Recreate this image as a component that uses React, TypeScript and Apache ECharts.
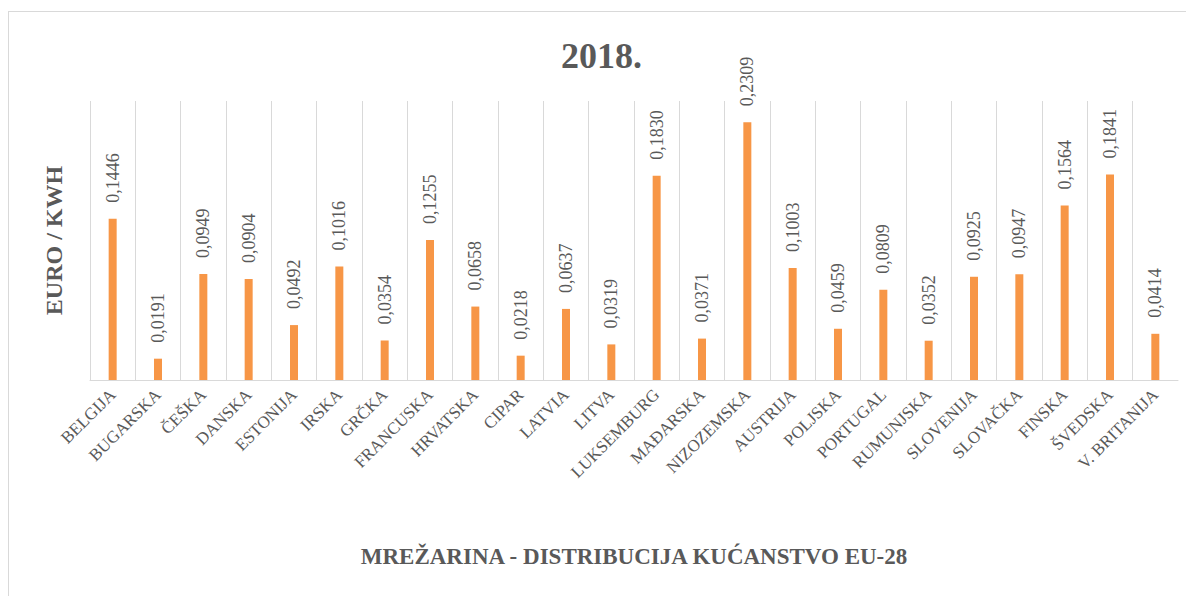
import React, { useEffect, useRef } from "react";
import * as echarts from "echarts";

const categories = [
  "BELGIJA", "BUGARSKA", "ČEŠKA", "DANSKA", "ESTONIJA", "IRSKA", "GRČKA",
  "FRANCUSKA", "HRVATSKA", "CIPAR", "LATVIA", "LITVA", "LUKSEMBURG",
  "MAĐARSKA", "NIZOZEMSKA", "AUSTRIJA", "POLJSKA", "PORTUGAL", "RUMUNJSKA",
  "SLOVENIJA", "SLOVAČKA", "FINSKA", "ŠVEDSKA", "V. BRITANIJA",
];
const values = [
  0.1446, 0.0191, 0.0949, 0.0904, 0.0492, 0.1016, 0.0354, 0.1255, 0.0658,
  0.0218, 0.0637, 0.0319, 0.183, 0.0371, 0.2309, 0.1003, 0.0459, 0.0809,
  0.0352, 0.0925, 0.0947, 0.1564, 0.1841, 0.0414,
];
const titleText = "2018.";
const yName = "EURO / KWH";
const xName = "MREŽARINA - DISTRIBUCIJA KUĆANSTVO EU-28";

const FONT = "'Liberation Serif', 'Times New Roman', serif";
const TEXT = "#595959";

export default function App() {
  const ref = useRef<HTMLDivElement>(null);
  useEffect(() => {
    if (!ref.current) return;
    const chart = echarts.init(ref.current, undefined, { renderer: "svg" });
    chart.setOption({
      animation: false,
      title: {
        text: titleText,
        left: "center",
        top: 21,
        textStyle: { fontFamily: FONT, fontSize: 36, fontWeight: "bold", color: TEXT },
      },
      grid: { left: 81, right: 16, top: 89, bottom: 216, containLabel: false },
      xAxis: {
        type: "category",
        data: categories,
        name: xName,
        nameLocation: "middle",
        nameGap: 165,
        nameTextStyle: { fontFamily: FONT, fontSize: 23, fontWeight: "bold", color: TEXT },
        axisLine: { lineStyle: { color: "#d9d9d9", width: 1 } },
        axisTick: { show: false },
        splitLine: { show: true, showMaxLine: false, lineStyle: { color: "#d9d9d9", width: 1 } },
        axisLabel: {
          rotate: 45,
          interval: 0,
          margin: 12,
          fontFamily: FONT,
          fontSize: 17,
          color: TEXT,
        },
      },
      yAxis: {
        type: "value",
        min: 0,
        max: 0.25,
        name: yName,
        nameLocation: "middle",
        nameRotate: 90,
        nameGap: 24,
        nameTextStyle: { fontFamily: FONT, fontSize: 24, fontWeight: "bold", color: TEXT },
        axisLine: { show: false },
        axisTick: { show: false },
        axisLabel: { show: false },
        splitLine: { show: false },
      },
      series: [
        {
          type: "bar",
          data: values,
          barWidth: 8,
          itemStyle: { color: "#F79646" },
          label: {
            show: true,
            position: "top",
            rotate: 90,
            align: "left",
            verticalAlign: "middle",
            distance: 16,
            fontFamily: FONT,
            fontSize: 18,
            color: TEXT,
            formatter: (p: any) => p.value.toFixed(4).replace(".", ","),
          },
        },
      ],
    });
    return () => chart.dispose();
  }, []);
  return (
    <div
      style={{
        marginTop: 3,
        width: 1185,
        height: 584,
        borderTop: "1px solid #d9d9d9",
        borderLeft: "1px solid #d9d9d9",
      }}
    >
      <div ref={ref} style={{ width: 1185, height: 584 }} />
    </div>
  );
}
